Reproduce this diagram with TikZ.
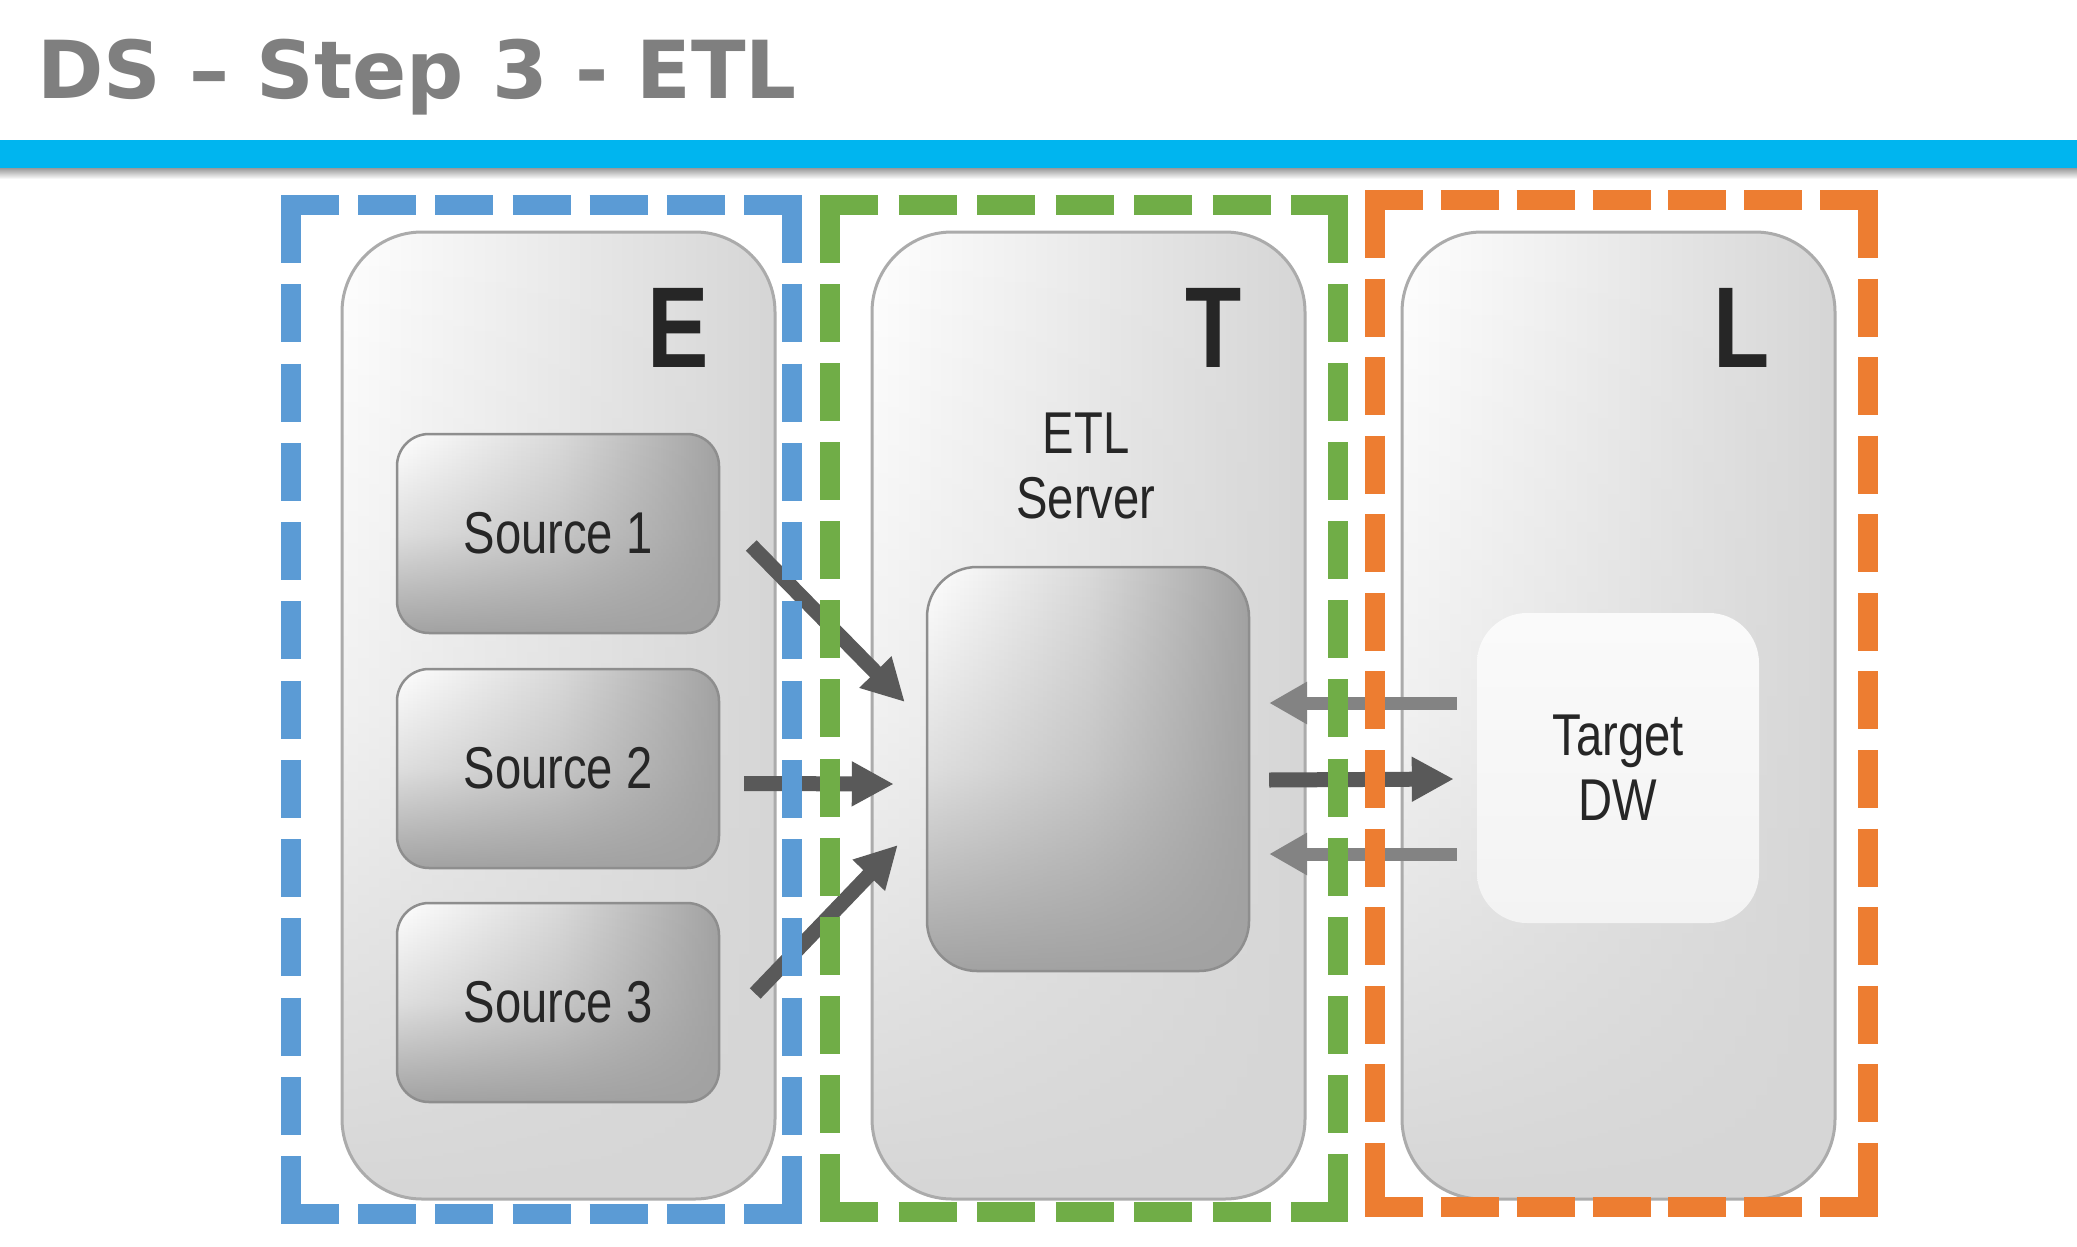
\documentclass[tikz,border=0pt]{standalone}
\usepackage{fontspec}
\setmainfont{Liberation Sans}
\newfontfamily\titlefont{DejaVu Sans}
\newfontfamily\lblfont{Liberation Sans}[FakeStretch=0.8]
\usetikzlibrary{arrows.meta,calc,fadings}

\definecolor{titlegray}{HTML}{7F7F7F}
\definecolor{band}{HTML}{00B5EF}
\definecolor{fblue}{HTML}{5B9BD5}
\definecolor{fgreen}{HTML}{70AD47}
\definecolor{forange}{HTML}{ED7D31}
\definecolor{panelgray}{HTML}{D6D6D6}
\definecolor{paneledge}{HTML}{ABABAB}
\definecolor{boxgray}{HTML}{A2A2A2}
\definecolor{boxmid}{HTML}{DADADA}
\definecolor{boxedge}{HTML}{8E8E8E}
\definecolor{txt}{HTML}{262626}
\definecolor{darrow}{HTML}{595959}
\definecolor{larrow}{HTML}{838383}
\definecolor{tgtfill}{HTML}{F3F3F3}

\tikzfading[name=lowerfade, top color=transparent!100, bottom color=transparent!0, middle color=transparent!65]

\tikzset{
  panel/.style={rectangle, rounded corners=80pt, inner sep=0pt,
    minimum width=433pt, minimum height=967pt,
    left color=white, right color=panelgray,
    postaction={fill=panelgray, path fading=lowerfade},
    postaction={draw=paneledge, line width=3pt}},
  glossy/.style={rectangle, inner sep=0pt,
    left color=white, right color=boxgray, middle color=boxmid,
    postaction={fill=boxgray, path fading=lowerfade},
    postaction={draw=boxedge, line width=2.5pt},
    text=txt, font=\lblfont\fontsize{59}{65}\selectfont},
  srcbox/.style={glossy, rounded corners=32pt, minimum width=322pt, minimum height=199pt},
  etlbox/.style={glossy, rounded corners=50pt, minimum width=322pt, minimum height=404pt},
  tgtbox/.style={rectangle, rounded corners=50pt, inner sep=0pt,
    minimum width=282pt, minimum height=310pt,
    top color=white!60!tgtfill, bottom color=tgtfill,
    text=txt, font=\lblfont\fontsize{59}{65}\selectfont, align=center},
  lbl/.style={inner sep=0pt, text=txt, font=\lblfont\fontsize{59}{65}\selectfont, align=center},
  bigletter/.style={inner sep=0pt, anchor=base east, text=txt,
    font=\lblfont\bfseries\fontsize{115}{115}\selectfont},
  darr/.style={draw=darrow, line width=15pt, -{Triangle[length=42pt, width=42pt, fill=darrow]}},
  larr/.style={draw=larrow, line width=13pt, -{Triangle[length=38pt, width=40pt, fill=larrow]}},
  frame/.style={line width=20pt}
}

\begin{document}
\begin{tikzpicture}[x=1pt, y=-1pt]
\useasboundingbox (0,0) rectangle (2077,1247);
\fill[white] (0,0) rectangle (2077,1247);

% title and band
\node[anchor=base west, inner sep=0pt, text=titlegray,
      font=\titlefont\bfseries\fontsize{80}{80}\selectfont] (title) at (37,99) {DS – Step 3 - ETL};
\fill[band] (0,140) rectangle (2077,168);
\shade[top color=black!40, bottom color=white] (0,168) rectangle (2077,179);

% panels
\node[panel] (pE) at (558.5,715.5) {};
\node[panel] (pT) at (1088.5,715.5) {};
\node[panel] (pL) at (1618.5,715.5) {};

\node[bigletter] (lE) at (709,367) {E};
\node[bigletter] (lT) at (1242,367) {T};
\node[bigletter] (lL) at (1770,367) {L};

% boxes
\node[srcbox] (s1) at (558,533.5) {Source 1};
\node[srcbox] (s2) at (558,768.5) {Source 2};
\node[srcbox] (s3) at (558,1002.5) {Source 3};

\node[lbl] (etllbl) at (1086,465.5) {ETL\\Server};
\node[etlbox] (etl) at (1088,769) {};

\node[tgtbox] (tgt) at (1618,768) {Target\\DW};

% arrows
\draw[darr] ($(s1.east)+(32,12)$) -- ($(etl.west)+(-22,-67)$);
\draw[darr] ($(s2.east)+(25,15)$) -- ($(etl.west)+(-33,15)$);
\draw[darr] ($(s3.east)+(36,-9)$) -- ($(etl.west)+(-29,76)$);
\draw[darr] ($(etl.east)+(20,11)$) -- ($(tgt.west)+(-23,11)$);
\draw[larr] ($(tgt.west)+(-20,-65)$) -- ($(etl.east)+(20,-66)$);
\draw[larr] ($(tgt.west)+(-20,86)$) -- ($(etl.east)+(20,85)$);

% dashed frames (blue)
\draw[frame, fblue, dash pattern=on 58pt off 19.17pt] (281,205) -- (802,205);
\draw[frame, fblue, dash pattern=on 58pt off 19.17pt] (281,1214) -- (802,1214);
\draw[frame, fblue, dash pattern=on 58pt off 21.25pt] (291,205) -- (291,1214);
\draw[frame, fblue, dash pattern=on 58pt off 21.25pt] (792,205) -- (792,1214);
% green
\draw[frame, fgreen, dash pattern=on 58pt off 20.5pt] (820,205) -- (1348,205);
\draw[frame, fgreen, dash pattern=on 58pt off 20.5pt] (820,1212) -- (1348,1212);
\draw[frame, fgreen, dash pattern=on 58pt off 21.08pt] (830,205) -- (830,1212);
\draw[frame, fgreen, dash pattern=on 58pt off 21.08pt] (1338,205) -- (1338,1212);
% orange
\draw[frame, forange, dash pattern=on 58pt off 17.83pt] (1365,200) -- (1878,200);
\draw[frame, forange, dash pattern=on 58pt off 17.83pt] (1365,1207) -- (1878,1207);
\draw[frame, forange, dash pattern=on 58pt off 20.58pt] (1375,200) -- (1375,1207);
\draw[frame, forange, dash pattern=on 58pt off 20.58pt] (1868,200) -- (1868,1207);
\end{tikzpicture}
\end{document}
